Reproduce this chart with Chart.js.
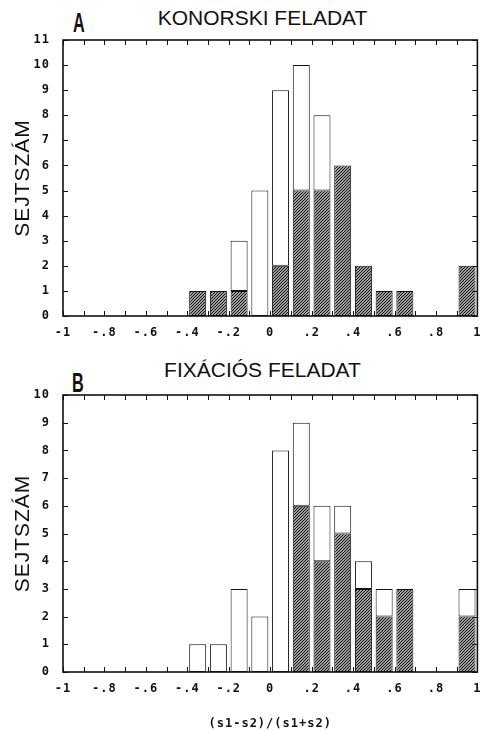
<!DOCTYPE html>
<html>
<head>
<meta charset="utf-8">
<script src="https://cdn.jsdelivr.net/npm/chart.js@4"></script>
<style>
  html, body { margin: 0; padding: 0; background: #fff; }
  body { width: 483px; height: 731px; position: relative; overflow: hidden; }
  canvas { position: absolute; left: 0; }
  .ttl { position: absolute; left: 0; width: 525px; text-align: center; white-space: nowrap;
         font: 21px 'Liberation Sans', Arial, sans-serif; line-height: 21px; color: #111; }
  .lt { position: absolute; font: bold 28px 'Liberation Sans', Arial, sans-serif; line-height: 28px;
        color: #111; transform: scaleX(0.58); transform-origin: 0 0; }
</style>
</head>
<body>
<div class="ttl" style="top:7px">KONORSKI FELADAT</div>
<div class="lt" style="left:73px;top:9px">A</div>
<canvas id="chartA" width="483" height="350" style="top:0"></canvas>

<div class="ttl" style="top:359px">FIXÁCIÓS FELADAT</div>
<div class="lt" style="left:72px;top:369px">B</div>
<canvas id="chartB" width="483" height="381" style="top:350px"></canvas>

<script>
// Histogram bins of width 0.1, given by their left edge
const binStarts = [-0.4, -0.3, -0.2, -0.1, 0, 0.1, 0.2, 0.3, 0.4, 0.5, 0.6, 0.7, 0.8, 0.9];

// Konorski task: hatched part and total cell count per bin
const konorskiHatched = [1, 1, 1, 0, 2, 5, 5, 6, 2, 1, 1, 0, 0, 2];
const konorskiTotal   = [1, 1, 3, 5, 9, 10, 8, 6, 2, 1, 1, 0, 0, 2];

// Fixation task: hatched part and total cell count per bin
const fixacioHatched = [0, 0, 0, 0, 0, 6, 4, 5, 3, 2, 3, 0, 0, 2];
const fixacioTotal   = [1, 1, 3, 2, 8, 9, 6, 6, 4, 3, 3, 0, 0, 3];

// Labels shown on every second x tick (-1 … 1)
const xTickLabels = ['-1', '-.8', '-.6', '-.4', '-.2', '0', '.2', '.4', '.6', '.8', '1'];

const yTitle = 'SEJTSZÁM';
const xTitle = '(s1-s2)/(s1+s2)';

const ink = '#111';
const tickFont = { family: "'DejaVu Sans Mono', monospace", size: 12, weight: 'bold' };

function hatchPattern() {
  const c = document.createElement('canvas');
  c.width = 3; c.height = 3;
  const g = c.getContext('2d');
  g.fillStyle = '#9c9c9c';
  g.fillRect(0, 0, 3, 3);
  g.fillStyle = '#141414';
  g.fillRect(2, 0, 1, 1);
  g.fillRect(1, 1, 1, 1);
  g.fillRect(0, 2, 1, 1);
  return g.createPattern(c, 'repeat');
}

function buildDatasets(hatched, total) {
  const common = {
    borderColor: ink, borderWidth: 1, borderSkipped: false,
    grouped: false, barPercentage: 0.82, categoryPercentage: 1
  };
  return [
    Object.assign({
      label: 'hatched',
      data: binStarts.map((s, i) => ({ x: s + 0.05, y: hatched[i] > 0 ? hatched[i] : null })),
      backgroundColor: hatchPattern()
    }, common),
    Object.assign({
      label: 'open',
      data: binStarts.map((s, i) => ({ x: s + 0.05, y: total[i] > hatched[i] ? [hatched[i], total[i]] : null })),
      backgroundColor: '#fff'
    }, common)
  ];
}

// Frame around the plot and inward-pointing ticks on all four sides
const framePlugin = {
  id: 'frame',
  beforeDraw(chart) {
    chart.ctx.letterSpacing = '1px';
  },
  afterDatasetsDraw(chart) {
    const { ctx, chartArea: a, scales: { x, y } } = chart;
    ctx.save();
    ctx.strokeStyle = ink;
    ctx.lineWidth = 1;
    ctx.beginPath();
    x.ticks.forEach(t => {
      const px = Math.round(x.getPixelForValue(t.value)) + 0.5;
      ctx.moveTo(px, a.bottom); ctx.lineTo(px, a.bottom - 5);
      ctx.moveTo(px, a.top);    ctx.lineTo(px, a.top + 5);
    });
    y.ticks.forEach(t => {
      const py = Math.round(y.getPixelForValue(t.value)) + 0.5;
      ctx.moveTo(a.left, py);  ctx.lineTo(a.left + 5, py);
      ctx.moveTo(a.right, py); ctx.lineTo(a.right - 5, py);
    });
    ctx.stroke();
    ctx.lineWidth = 1.6;
    ctx.strokeRect(a.left, a.top, a.right - a.left, a.bottom - a.top);
    ctx.restore();
  }
};

function makeChart(id, hatched, total, yMax, topPad, xAxisHeight, showXTitle) {
  return new Chart(document.getElementById(id), {
    type: 'bar',
    data: { datasets: buildDatasets(hatched, total) },
    plugins: [framePlugin],
    options: {
      responsive: false,
      animation: false,
      layout: { autoPadding: false, padding: { top: topPad, right: 2, bottom: 0, left: 0 } },
      plugins: { legend: { display: false }, tooltip: { enabled: false } },
      scales: {
        x: {
          type: 'linear', min: -1, max: 1, offset: false,
          grid: { display: false }, border: { display: false },
          ticks: {
            stepSize: 0.1, autoSkip: false, maxRotation: 0, padding: 2,
            font: tickFont, color: ink,
            callback: v => {
              const k = Math.round(v * 10);
              return (k + 10) % 2 === 0 ? xTickLabels[(k + 10) / 2] : '';
            }
          },
          title: {
            display: showXTitle, text: xTitle, color: ink, font: tickFont,
            padding: { top: 0, bottom: 0 }
          },
          afterFit: s => { s.height = xAxisHeight; }
        },
        y: {
          min: 0, max: yMax,
          grid: { display: false }, border: { display: false },
          ticks: { stepSize: 1, autoSkip: false, padding: 5, font: tickFont, color: ink },
          title: {
            display: true, text: yTitle, color: ink,
            font: { family: "'Liberation Sans', Arial, sans-serif", size: 21 },
            padding: { top: 11, bottom: 0 }
          },
          afterFit: s => { s.width = 63; }
        }
      }
    }
  });
}

makeChart('chartA', konorskiHatched, konorskiTotal, 11, 40, 34, false);
makeChart('chartB', fixacioHatched, fixacioTotal, 10, 45, 59, true);
</script>
</body>
</html>
